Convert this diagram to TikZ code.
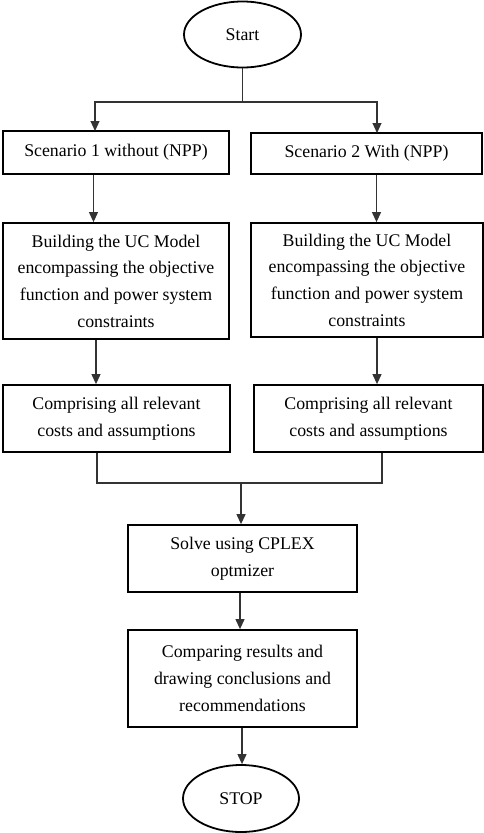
\documentclass[tikz,border=0pt]{standalone}
\usepackage{fontspec}
\setmainfont{Liberation Serif}
\usetikzlibrary{shapes.geometric,arrows.meta,calc}
\begin{document}
\begin{tikzpicture}[x=1pt,y=1pt,
  txt/.style={font=\fontsize{17.8}{26.7}\selectfont, align=center, inner sep=0pt},
  box/.style={txt, draw=black, line width=1.8pt, rectangle},
  term/.style={txt, draw=black, line width=1.8pt, ellipse},
  conn/.style={draw=black!80, line width=1.1pt},
  arr/.style={conn, -{Triangle[width=9pt,length=10pt]}}
]
\useasboundingbox (0,0) rectangle (484,-833);
\node[term, minimum width=117, minimum height=66] (start) at (242.5,-34.5) {Start};
\node[box, minimum width=226, minimum height=43] (s1) at (116,-152.5) {Scenario 1 without (NPP)};
\node[box, minimum width=231, minimum height=41] (s2) at (366.5,-153.5) {Scenario 2 With (NPP)};
\node[box, minimum width=226, minimum height=116] (b1) at (116,-281) {Building the UC Model\\encompassing the objective\\function and power system\\constraints};
\node[box, minimum width=232, minimum height=114] (b2) at (367,-280) {Building the UC Model\\encompassing the objective\\function and power system\\constraints};
\node[box, minimum width=227, minimum height=67] (c1) at (116.5,-418.5) {Comprising all relevant\\costs and assumptions};
\node[box, minimum width=229, minimum height=67] (c2) at (368.5,-418.5) {Comprising all relevant\\costs and assumptions};
\node[box, minimum width=229, minimum height=67] (solve) at (242.5,-558.5) {Solve using CPLEX\\optmizer};
\node[box, minimum width=229, minimum height=97] (cmp) at (242.5,-678.5) {Comparing results and\\drawing conclusions and\\recommendations};
\node[term, minimum width=116, minimum height=67] (stop) at (241,-798.5) {STOP};
% split
\coordinate (j1) at (242.5,-102);
\coordinate (s1in) at (95,-131);
\coordinate (s2in) at (377,-133);
\draw[conn] (start) -- (j1);
\draw[arr] (j1) -| (s1in);
\draw[arr] (j1) -| (s2in);
% scenario to building
\draw[arr] ([xshift=-22.5pt]s1.south) -- ([xshift=-22.5pt]s1.south |- b1.north);
\draw[arr] ([xshift=10pt]s2.south) -- ([xshift=10pt]s2.south |- b2.north);
% building to comprising
\draw[arr] ([xshift=-20pt]b1.south) -- ([xshift=-20pt]b1.south |- c1.north);
\draw[arr] ([xshift=10pt]b2.south) -- ([xshift=10pt]b2.south |- c2.north);
% merge
\coordinate (j2) at (241,-483);
\draw[conn] ([xshift=-19.5pt]c1.south) |- (j2);
\draw[conn] ([xshift=13.5pt]c2.south) |- (j2);
\draw[arr] (j2) -- (j2 |- solve.north);
\draw[arr] ([xshift=-2.5pt]solve.south) -- ([xshift=-2.5pt]solve.south |- cmp.north);
\draw[arr] ([xshift=-0.5pt]cmp.south) -- ([xshift=-0.5pt]cmp.south |- stop.north);
\end{tikzpicture}
\end{document}
